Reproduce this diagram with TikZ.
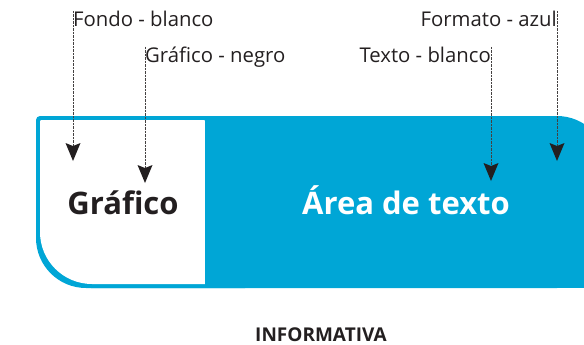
\documentclass[tikz,border=0pt]{standalone}
\usepackage{fontspec}
\setmainfont{Open Sans}
\usetikzlibrary{arrows.meta}
\definecolor{azul}{RGB}{0,166,214}
\definecolor{tinta}{RGB}{35,31,32}
\tikzset{
  lbl/.style={inner sep=0pt, text=tinta, font=\fontsize{20.3}{22}\selectfont},
  big/.style={inner sep=0pt, font=\fontsize{31}{33}\selectfont\bfseries},
  pointer/.style={draw=tinta!85, line width=0.9pt, dash pattern=on 0.7pt off 0.7pt,
    -{Stealth[length=18pt,width=15pt,inset=3pt,fill=tinta,line width=0pt]}},
}
\begin{document}
\begin{tikzpicture}[x=1pt,y=-1pt]
\useasboundingbox (0,0) rectangle (584,345);
\begin{scope}
\clip (0,0) rectangle (584,345);
% outer blue shape (union of pieces)
\fill[azul, rounded corners=50pt] (36,116) rectangle (607,288);
\fill[azul, rounded corners=4pt] (36,116) rectangle (200,200);
\fill[azul, rounded corners=55pt] (36,150) rectangle (300,288);
\fill[azul] (200,150) rectangle (700,288);
% white inner area
\fill[white, rounded corners=1pt] (40,120) rectangle (205,200);
\fill[white, rounded corners=52pt] (40,150) rectangle (260,284);
\fill[azul] (205,120) rectangle (300,288);
\end{scope}
% labels
\node[lbl, anchor=base west] (fondo) at (73,26.5) {Fondo - blanco};
\node[lbl, anchor=base west] (grafl) at (145,62.5) {Gráfico - negro};
\node[lbl, anchor=base east] (texto) at (491,62.5) {Texto - blanco};
\node[lbl, anchor=base east] (formato) at (557,26.5) {Formato - azul};
% big texts
\node[big, text=tinta, anchor=base] (grafico) at (123,214) {Gráfico};
\node[big, text=white, anchor=base] (area) at (406,214) {Área de texto};
\node[inner sep=0pt, text=tinta, font=\fontsize{19}{21}\selectfont\bfseries, anchor=base] (info) at (321,341) {INFORMATIVA};
% tips
\coordinate (t1) at (73,161);
\coordinate (t2) at (145,183);
\coordinate (t3) at (490,181);
\coordinate (t4) at (556,161);
\draw[pointer] (fondo.north west) -- (fondo.north west |- t1);
\draw[pointer] (grafl.north west) -- (grafl.north west |- t2);
\draw[pointer] (texto.north east) -- (texto.north east |- t3);
\draw[pointer] (formato.north east) -- (formato.north east |- t4);
\end{tikzpicture}
\end{document}
